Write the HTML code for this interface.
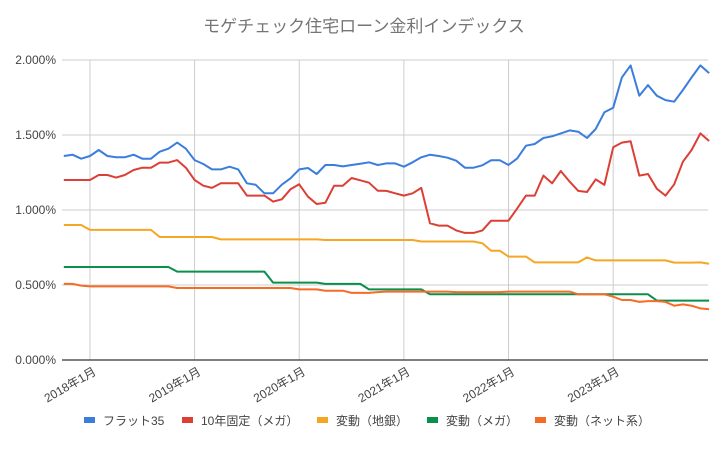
<!DOCTYPE html>
<html><head><meta charset="utf-8"><style>
body{margin:0;background:#fff;font-family:"Liberation Sans","Noto Sans CJK JP",sans-serif;}
svg text{font-family:"Liberation Sans","Noto Sans CJK JP",sans-serif;}
</style></head><body>
<svg id="chart" width="728" height="446">
<text x="364" y="32" text-anchor="middle" font-size="17" fill="#757575">モゲチェック住宅ローン金利インデックス</text>
<g id="grid"></g><g id="xlab"></g><g id="ylab"></g><g id="lines"></g><g id="legend"></g>
</svg>
<script>
const startMonth = "2017-10";
const yTicks = [0, 0.5, 1.0, 1.5, 2.0];
const xTickLabels = ["2018年1月","2019年1月","2020年1月","2021年1月","2022年1月","2023年1月"];
const xTickIndex = [3, 15, 27, 39, 51, 63];
const seriesNames = ["フラット35","10年固定（メガ）","変動（地銀）","変動（メガ）","変動（ネット系）"];
const flat35 = [1.36,1.369,1.342,1.36,1.40,1.36,1.351,1.351,1.369,1.342,1.342,1.389,1.409,1.449,1.409,1.333,1.307,1.271,1.271,1.289,1.271,1.178,1.169,1.111,1.111,1.169,1.211,1.271,1.28,1.24,1.3,1.3,1.291,1.3,1.309,1.318,1.30,1.311,1.311,1.289,1.318,1.351,1.369,1.36,1.349,1.329,1.282,1.282,1.298,1.331,1.331,1.30,1.344,1.429,1.44,1.48,1.491,1.511,1.531,1.522,1.48,1.54,1.651,1.682,1.884,1.964,1.762,1.833,1.762,1.733,1.722,1.80,1.884,1.964,1.913];
const fixed10 = [1.2,1.2,1.2,1.2,1.233,1.233,1.216,1.233,1.267,1.282,1.282,1.316,1.316,1.333,1.282,1.2,1.162,1.147,1.178,1.178,1.178,1.096,1.096,1.096,1.056,1.071,1.138,1.171,1.089,1.04,1.049,1.162,1.162,1.213,1.198,1.182,1.129,1.127,1.111,1.096,1.111,1.147,0.911,0.896,0.896,0.864,0.847,0.847,0.864,0.929,0.929,0.929,1.011,1.096,1.096,1.229,1.178,1.26,1.189,1.127,1.12,1.204,1.167,1.418,1.449,1.458,1.229,1.24,1.142,1.096,1.171,1.322,1.40,1.511,1.46];
const varRegional = [0.9,0.9,0.9,0.867,0.867,0.867,0.867,0.867,0.867,0.867,0.867,0.82,0.82,0.82,0.82,0.82,0.82,0.82,0.804,0.804,0.804,0.804,0.804,0.804,0.804,0.804,0.804,0.804,0.804,0.804,0.80,0.80,0.80,0.80,0.80,0.80,0.80,0.80,0.80,0.80,0.80,0.79,0.79,0.79,0.79,0.79,0.79,0.79,0.778,0.729,0.729,0.689,0.689,0.689,0.651,0.651,0.651,0.651,0.651,0.651,0.684,0.664,0.664,0.664,0.664,0.664,0.664,0.664,0.664,0.664,0.649,0.649,0.649,0.651,0.642];
const varMega = [0.62,0.62,0.62,0.62,0.62,0.62,0.62,0.62,0.62,0.62,0.62,0.62,0.62,0.589,0.589,0.589,0.589,0.589,0.589,0.589,0.589,0.589,0.589,0.589,0.516,0.516,0.516,0.516,0.516,0.516,0.507,0.507,0.507,0.507,0.507,0.471,0.471,0.471,0.471,0.471,0.471,0.471,0.438,0.438,0.438,0.438,0.438,0.438,0.438,0.438,0.438,0.438,0.438,0.438,0.438,0.438,0.438,0.438,0.438,0.438,0.438,0.438,0.438,0.438,0.438,0.438,0.438,0.438,0.396,0.396,0.396,0.396,0.396,0.396,0.396];
const varNet = [0.507,0.507,0.496,0.491,0.491,0.491,0.491,0.491,0.491,0.491,0.491,0.491,0.491,0.48,0.48,0.48,0.48,0.48,0.48,0.48,0.48,0.48,0.48,0.48,0.48,0.48,0.48,0.471,0.471,0.471,0.462,0.462,0.462,0.447,0.447,0.447,0.453,0.456,0.456,0.456,0.456,0.456,0.456,0.456,0.456,0.453,0.453,0.453,0.453,0.453,0.453,0.456,0.456,0.456,0.456,0.456,0.456,0.456,0.456,0.438,0.438,0.438,0.438,0.422,0.40,0.40,0.387,0.393,0.393,0.387,0.362,0.371,0.362,0.344,0.338];
const colors = ["#3b7ddd","#dc3f35","#f5a623","#0a8f4c","#f66b25"];

const NS="http://www.w3.org/2000/svg";
const X0=63.8, DX=8.72, Y0=360, YS=150, XL=62, XR=708;
const xs=i=>X0+i*DX, ys=v=>Y0-v*YS;
function mk(tag,attrs,parent,txt){const e=document.createElementNS(NS,tag);for(const k in attrs)e.setAttribute(k,attrs[k]);if(txt!=null)e.textContent=txt;parent.appendChild(e);return e;}
const grid=document.getElementById('grid'),ylab=document.getElementById('ylab'),xlab=document.getElementById('xlab'),lines=document.getElementById('lines'),legend=document.getElementById('legend');
yTicks.forEach(t=>{
  if(t>0){const g=mk('line',{x1:XL,x2:XR,y1:ys(t),y2:ys(t),stroke:'#cccccc','stroke-width':1},grid);
  
  }
  const l=mk('text',{x:56,y:ys(t)+4,'text-anchor':'end','font-size':12,fill:'#444'},ylab,t.toFixed(3)+'%');
  
  
});
xTickIndex.forEach((idx,j)=>{
  const x=xs(idx);
  const g=mk('line',{x1:x,x2:x,y1:ys(2),y2:Y0,stroke:'#cccccc','stroke-width':1},grid);
  
  
  const t=mk('text',{x:x+7,y:374,'text-anchor':'end','font-size':12,fill:'#444',transform:`rotate(-30 ${x+7} 374)`},xlab,xTickLabels[j]);
  
  
});
const ax=mk('line',{x1:XL,x2:XR,y1:Y0,y2:Y0,stroke:'#333','stroke-width':1.2},grid);


const series=[flat35,fixed10,varRegional,varMega,varNet];
const snames=['line-flat35','line-fixed10-mega','line-variable-regional','line-variable-mega','line-variable-net'];
series.forEach((s,k)=>{
  const d=s.map((v,i)=>(i?'L':'M')+xs(i).toFixed(1)+' '+ys(v).toFixed(1)).join(' ');
  const p=mk('path',{d:d,fill:'none',stroke:colors[k],'stroke-width':2,'stroke-linejoin':'round'},lines);
  
  
});
const legX=[84,182,317,427,535];
seriesNames.forEach((n,k)=>{
  const g=mk('g',{},legend);
  
  
  mk('rect',{x:legX[k],y:417,width:11,height:6,fill:colors[k]},g);
  mk('text',{x:legX[k]+19,y:425,'font-size':12,fill:'#444'},g,n);
});
</script>
</body></html>
